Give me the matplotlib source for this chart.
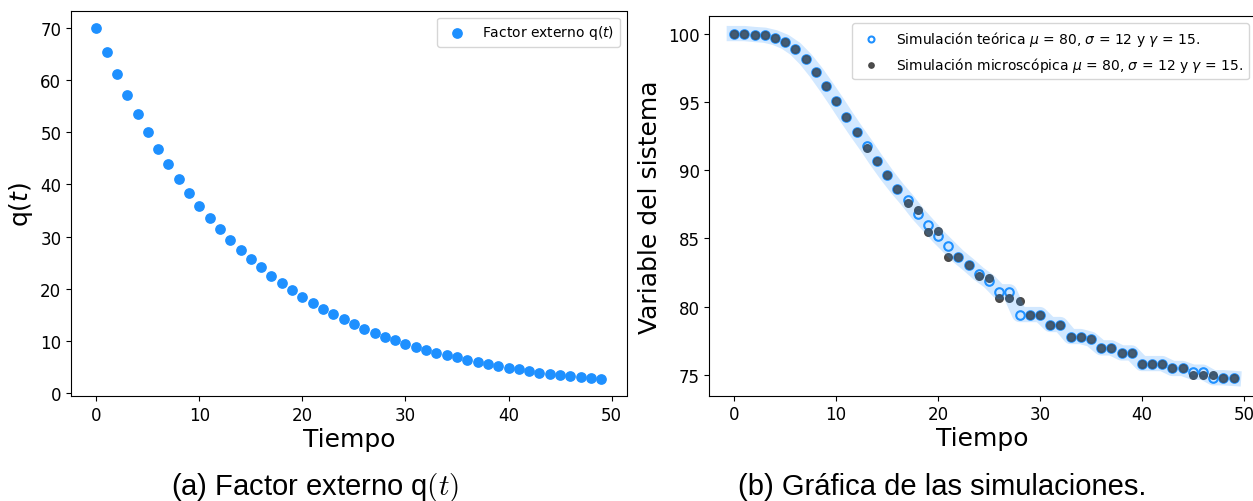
"""
Factor externo q(t) y simulaciones teorica / microscopica.
"""

import matplotlib
matplotlib.use('Agg')
import matplotlib.pyplot as plt

tiempo = list(range(50))

q_t = [70.0, 65.5, 61.2, 57.2, 53.6, 50.1, 46.9, 43.9, 41.0, 38.4,
       35.9, 33.6, 31.4, 29.4, 27.5, 25.7, 24.1, 22.5, 21.1, 19.7,
       18.4, 17.3, 16.1, 15.1, 14.1, 13.2, 12.3, 11.5, 10.8, 10.1,
       9.4, 8.8, 8.3, 7.7, 7.2, 6.8, 6.3, 5.9, 5.5, 5.2,
       4.8, 4.5, 4.2, 3.9, 3.7, 3.4, 3.2, 3.0, 2.8, 2.7]

teorica = [100.0, 100.0, 99.93, 99.88, 99.7, 99.39, 98.88, 98.12, 97.19, 96.14,
           95.04, 93.9, 92.8, 91.75, 90.64, 89.6, 88.64, 87.77, 86.81, 85.98,
           85.15, 84.4, 83.66, 83.05, 82.39, 81.85, 81.08, 81.08, 79.41, 79.41,
           79.41, 78.68, 78.68, 77.8, 77.8, 77.6, 76.97, 76.97, 76.6, 76.6,
           75.82, 75.82, 75.82, 75.46, 75.46, 75.19, 75.19, 74.78, 74.78, 74.73]

microscopica = [100.0, 100.0, 99.93, 99.88, 99.7, 99.39, 98.88, 98.12, 97.19, 96.14,
                95.04, 93.9, 92.8, 91.65, 90.64, 89.6, 88.64, 87.57, 87.06, 85.49,
                85.52, 83.64, 83.66, 83.05, 82.25, 82.1, 80.64, 80.64, 80.39, 79.41,
                79.41, 78.68, 78.68, 77.8, 77.8, 77.6, 76.97, 76.97, 76.6, 76.6,
                75.82, 75.82, 75.82, 75.46, 75.46, 75.0, 75.0, 74.95, 74.78, 74.73]

mu, sigma, gamma = 80, 12, 15

fig = plt.figure(figsize=(12.53, 5.02), dpi=100)

# (a) factor externo
ax1 = fig.add_axes([0.0567, 0.2086, 0.4433, 0.7681])
ax1.scatter(tiempo, q_t, s=45, color='dodgerblue', label='Factor externo q($t$)')
ax1.set_xlabel('Tiempo', fontsize=18, labelpad=2)
ax1.set_ylabel('q($t$)', fontsize=18)
ax1.tick_params(labelsize=12)
ax1.legend(loc='upper right', fontsize=10)

# (b) simulaciones
ax2 = fig.add_axes([0.5661, 0.2098, 0.4363, 0.7557])
ax2.plot(tiempo, teorica, color='dodgerblue', alpha=0.2, lw=11,
         label='_nolegend_')
ax2.scatter(tiempo, teorica, s=38, facecolors='white', edgecolors='dodgerblue',
            linewidths=1.5,
            label='Simulación teórica $\\mu$ = %d, $\\sigma$ = %d y $\\gamma$ = %d.' % (mu, sigma, gamma))
ax2.scatter(tiempo, microscopica, s=30, color='#444444', alpha=0.95,
            label='Simulación microscópica $\\mu$ = %d, $\\sigma$ = %d y $\\gamma$ = %d.' % (mu, sigma, gamma))
ax2.set_xlim(-2.45, 51.2)
ax2.set_xlabel('Tiempo', fontsize=18, labelpad=2)
ax2.set_ylabel('Variable del sistema', fontsize=18)
ax2.tick_params(labelsize=12)
ax2.legend(loc='upper right', fontsize=10, markerscale=0.7)

# captions
fig.text(0.2515, 0.014, '(a) Factor externo q$(t)$', fontsize=21, ha='center',
         va='baseline', family='Liberation Sans', math_fontfamily='cm')
fig.text(0.752, 0.014, '(b) Gráfica de las simulaciones.', fontsize=21, ha='center',
         va='baseline', family='Liberation Sans')

fig.savefig('out.png', dpi=100)
